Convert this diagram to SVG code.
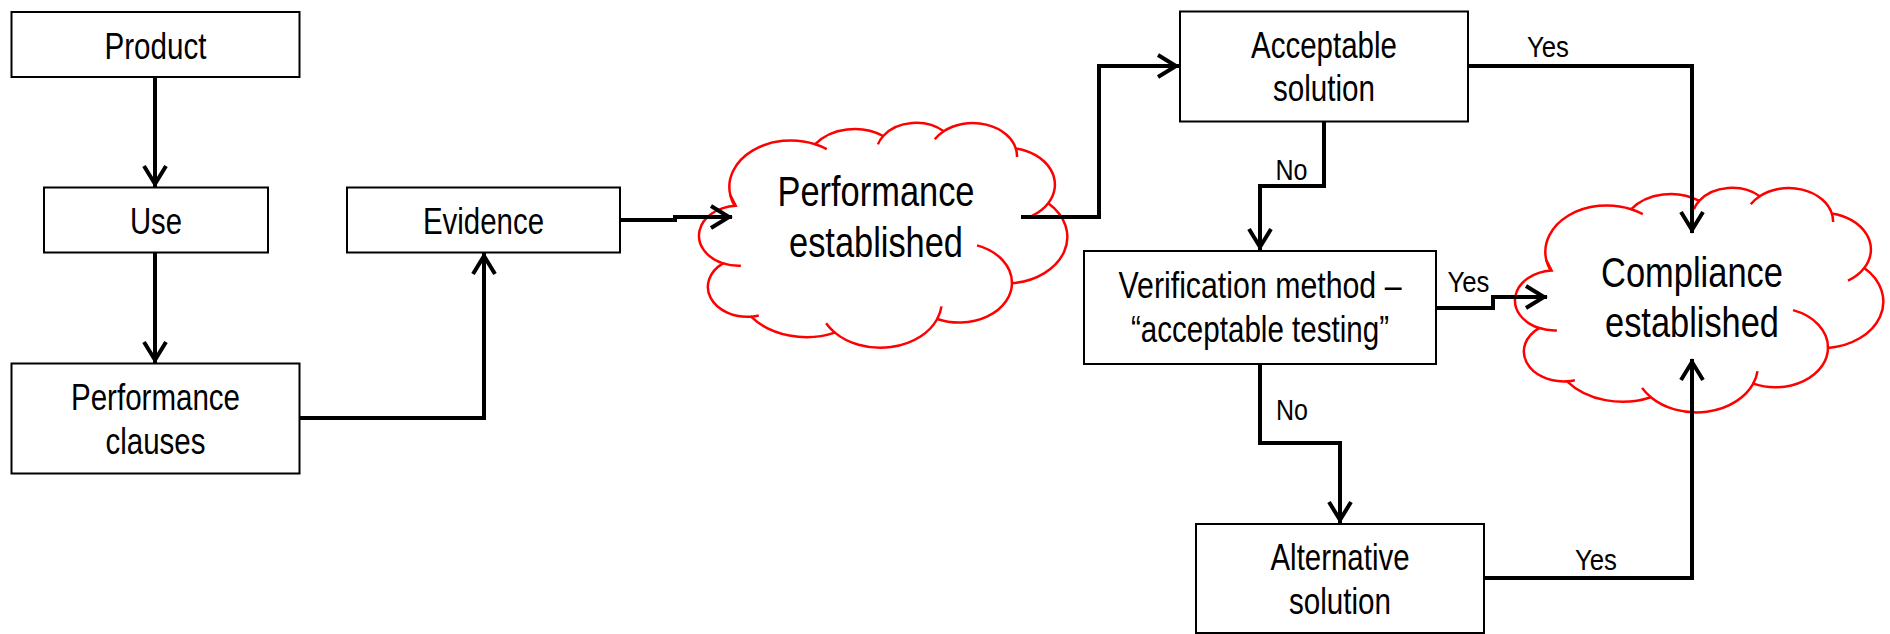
<svg xmlns="http://www.w3.org/2000/svg" xmlns:xlink="http://www.w3.org/1999/xlink" width="1890" height="634" viewBox="0 0 1890 634">
<style>
.box{fill:#fff;stroke:#000;stroke-width:2}
.t{font-family:"Liberation Sans Narrow","Arial Narrow","Liberation Sans",Arial,sans-serif;font-size:36px;fill:#000;text-anchor:middle}
.ct{font-size:42px}
.lbl{font-size:30px}
.conn{fill:none;stroke:#000;stroke-width:4;stroke-linejoin:miter;marker-end:url(#arr)}
.cloud{fill:#fff;stroke:#f00;stroke-width:2.5;vector-effect:non-scaling-stroke}
.cloudIn{fill:none;stroke:#f00;stroke-width:2.5;vector-effect:non-scaling-stroke}
</style>
<defs>
<marker id="arr" viewBox="-26 -14 30 28" refX="0" refY="0" markerWidth="30" markerHeight="28" markerUnits="userSpaceOnUse" orient="auto" overflow="visible">
<path d="M-21,-11 L-3,0 L-21,11" fill="none" stroke="#000" stroke-width="4"/>
</marker>
<path id="cloudOuter" class="cloud" d="M3900 14370 A6753 9190 0 0 1 13210 4256 A5333 7267 0 0 1 20655 2625 A4365 5945 0 0 1 27294 1684 A4857 6595 0 0 1 35198 5096 A5333 7273 0 0 1 38757 15899 A6775 9220 0 0 1 34780 31730 A5785 7867 0 0 1 26582 38793 A6752 9215 0 0 1 15356 41488 A7720 10543 0 0 1 6167 38338 A4360 5918 0 0 1 3094 27793 A4345 5945 0 0 1 4477 16399 Z"/>
<path id="cloudInner" class="cloudIn" d="M5051 28263 A4345 5945 0 0 1 3094 27793 M7022 38120 A4360 5918 0 0 1 6167 38338 M15356 41488 A6752 9215 0 0 1 14396 39642 M27051 36310 A6752 9215 0 0 1 26582 38793 M30947 24238 A5785 7867 0 0 1 34780 31730 M38757 15899 A5333 7273 0 0 1 36972 18402 M35198 5096 A4857 6595 0 0 1 35336 6791 M26308 3285 A4857 6595 0 0 1 27294 1684 M20080 4277 A4365 5945 0 0 1 20655 2625 M13210 4256 A6753 9190 0 0 1 14473 5226 M4295 16191 A6753 9190 0 0 1 3900 14370"/>
</defs>
<rect width="1890" height="634" fill="#fff"/>

<g id="product">
<rect class="box" x="11.5" y="12" width="288" height="65"/>
<text class="t" x="155.5" y="58.5" textLength="102" lengthAdjust="spacingAndGlyphs">Product</text>
</g>
<g id="use">
<rect class="box" x="44" y="187.5" width="224" height="65"/>
<text class="t" x="156" y="233.5" textLength="52" lengthAdjust="spacingAndGlyphs">Use</text>
</g>
<g id="performance-clauses">
<rect class="box" x="11.5" y="363.5" width="288" height="110"/>
<text class="t" x="155.5" y="409.5" textLength="169" lengthAdjust="spacingAndGlyphs">Performance</text>
<text class="t" x="155.5" y="454" textLength="100" lengthAdjust="spacingAndGlyphs">clauses</text>
</g>
<g id="evidence">
<rect class="box" x="347" y="187.5" width="273" height="65"/>
<text class="t" x="483.5" y="233.5" textLength="121" lengthAdjust="spacingAndGlyphs">Evidence</text>
</g>
<g id="performance-established">
<g transform="translate(694.8,122.7) scale(0.00912,0.00506)">
<use xlink:href="#cloudOuter"/>
<use xlink:href="#cloudInner"/>
</g>
<text class="t ct" x="876" y="206" textLength="197" lengthAdjust="spacingAndGlyphs">Performance</text>
<text class="t ct" x="876" y="257" textLength="174" lengthAdjust="spacingAndGlyphs">established</text>
</g>
<g id="acceptable-solution">
<rect class="box" x="1180" y="11.5" width="288" height="110"/>
<text class="t" x="1324" y="57.5" textLength="146" lengthAdjust="spacingAndGlyphs">Acceptable</text>
<text class="t" x="1324" y="101" textLength="102" lengthAdjust="spacingAndGlyphs">solution</text>
</g>
<g id="verification-method">
<rect class="box" x="1084" y="251" width="352" height="113"/>
<text class="t" x="1260" y="297.5" textLength="283" lengthAdjust="spacingAndGlyphs">Verification method –</text>
<text class="t" x="1260" y="342" textLength="258" lengthAdjust="spacingAndGlyphs">“acceptable testing”</text>
</g>
<g id="alternative-solution">
<rect class="box" x="1196" y="524" width="288" height="109"/>
<text class="t" x="1340" y="569.5" textLength="139" lengthAdjust="spacingAndGlyphs">Alternative</text>
<text class="t" x="1340" y="614" textLength="102" lengthAdjust="spacingAndGlyphs">solution</text>
</g>
<g id="compliance-established">
<g transform="translate(1510.8,187.7) scale(0.00912,0.00505)">
<use xlink:href="#cloudOuter"/>
<use xlink:href="#cloudInner"/>
</g>
<text class="t ct" x="1692" y="286.5" textLength="182" lengthAdjust="spacingAndGlyphs">Compliance</text>
<text class="t ct" x="1692" y="337" textLength="174" lengthAdjust="spacingAndGlyphs">established</text>
</g>

<g id="connectors">
<path class="conn" d="M155,77 V187"/>
<path class="conn" d="M155,252.5 V363"/>
<path class="conn" d="M300,418 H484 V253"/>
<path class="conn" d="M620,220 H675 V217 H732"/>
<path class="conn" d="M1021,217 H1099 V66 H1179"/>
<path class="conn" d="M1468,66 H1692 V233"/>
<path class="conn" d="M1324,122 V186 H1260 V250"/>
<path class="conn" d="M1436,308 H1493 V297 H1547"/>
<path class="conn" d="M1260,364 V443 H1340 V523"/>
<path class="conn" d="M1484,578 H1692 V359"/>
<text class="t lbl" x="1548" y="57" textLength="42" lengthAdjust="spacingAndGlyphs">Yes</text>
<text class="t lbl" x="1291.5" y="180" textLength="32" lengthAdjust="spacingAndGlyphs">No</text>
<text class="t lbl" x="1468.5" y="292" textLength="42" lengthAdjust="spacingAndGlyphs">Yes</text>
<text class="t lbl" x="1292" y="420" textLength="32" lengthAdjust="spacingAndGlyphs">No</text>
<text class="t lbl" x="1596" y="570" textLength="42" lengthAdjust="spacingAndGlyphs">Yes</text>
</g>
</svg>
